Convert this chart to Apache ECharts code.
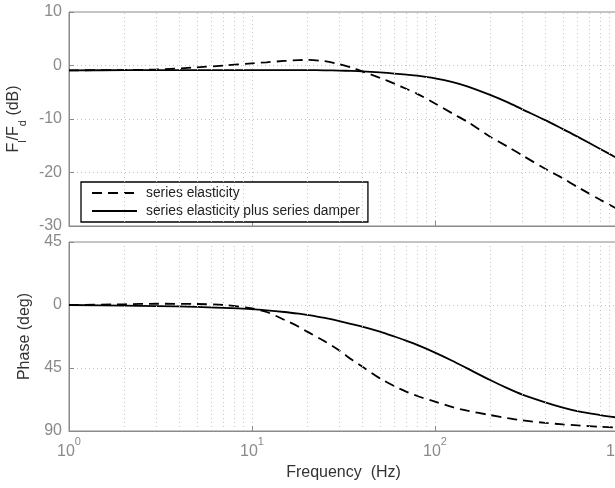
<!DOCTYPE html>
<html>
<head>
<meta charset="utf-8">
<script src="https://cdn.jsdelivr.net/npm/echarts@6/dist/echarts.min.js"></script>
<style>
  html, body { margin: 0; padding: 0; background: #fff; }
  #chart { width: 615px; height: 488px; }
</style>
</head>
<body>
<div id="chart"></div>
<script>
// frequencies (Hz) where the curves were read
var freq = [1, 2, 3, 5, 7, 10, 12, 15, 18, 20, 25, 30, 35, 40, 50, 60, 70, 80, 100, 125, 150, 200, 250, 300, 400, 500, 600, 800, 1000];
// magnitude F_l/F_d (dB)
var magElastic = [-0.9, -0.85, -0.75, -0.35, 0.0, 0.4, 0.6, 0.85, 1.0, 1.05, 0.8, 0.25, -0.4, -1.1, -2.3, -3.4, -4.4, -5.3, -7.1, -9.0, -10.5, -13.3, -15.2, -16.8, -19.3, -21.1, -22.7, -25.1, -26.9];
var magDamper = [-0.9, -0.88, -0.87, -0.86, -0.86, -0.86, -0.86, -0.86, -0.87, -0.87, -0.9, -0.95, -1.02, -1.1, -1.3, -1.5, -1.7, -1.9, -2.4, -3.1, -3.9, -5.5, -6.9, -8.2, -10.2, -11.9, -13.3, -15.6, -17.4];
// phase (deg)
var phaseElastic = [0, 0.5, 0.9, 0.7, 0, -2.5, -5, -10.5, -15.5, -19, -26, -32.5, -39, -44, -52.4, -58, -62, -65, -69, -73, -75.5, -78.6, -80.8, -82.4, -84.2, -85.3, -86, -87, -87.6];
var phaseDamper = [0, -0.5, -0.8, -1.3, -2.0, -3.0, -3.8, -5.0, -6.2, -7.0, -9.2, -11.5, -13.6, -15.4, -19.0, -22.5, -25.6, -28.5, -34.0, -40.0, -45.3, -53.6, -59.6, -64.0, -69.5, -73.3, -75.8, -78.6, -80.5];

var seriesNames = ['series elasticity', 'series elasticity plus series damper'];
var phaseTickLabels = { '45': '45', '0': '0', '-45': '45', '-90': '90' };
var minorFreq = [2, 3, 4, 5, 6, 7, 8, 9, 20, 30, 40, 50, 60, 70, 80, 90, 200, 300, 400, 500, 600, 700, 800, 900];

var FONT = 'Liberation Sans, Arial, Helvetica, sans-serif';
var AXIS_GRAY = '#8a8a8a';
var GRID_GRAY = '#c4c4c4';

function pairs(ys) {
  return freq.map(function (f, i) { return [f, ys[i]]; });
}

var minorLines = {
  silent: true,
  symbol: ['none', 'none'],
  label: { show: false },
  lineStyle: { color: GRID_GRAY, type: [1, 3], width: 1 },
  emphasis: { disabled: true },
  animation: false,
  data: minorFreq.map(function (f) { return { xAxis: f }; })
};

function xAxisFor(gridIndex, showLabels) {
  return {
    gridIndex: gridIndex,
    type: 'log',
    logBase: 10,
    min: 1,
    max: 1000,
    axisLine: { show: true, onZero: false, lineStyle: { color: AXIS_GRAY, width: 1 } },
    axisTick: { show: true, inside: true, length: 5, lineStyle: { color: AXIS_GRAY } },
    splitLine: { show: true, lineStyle: { color: GRID_GRAY, type: [1, 3], width: 1 } },
    axisLabel: {
      show: showLabels,
      margin: 5,
      formatter: function (v) {
        return '{b|10}{e|' + Math.round(Math.log10(v)) + '}';
      },
      rich: {
        b: { fontSize: 16, color: AXIS_GRAY, fontFamily: FONT, lineHeight: 24, verticalAlign: 'bottom' },
        e: { fontSize: 11, color: AXIS_GRAY, fontFamily: FONT, verticalAlign: 'top', lineHeight: 24 }
      }
    },
    name: showLabels ? 'Frequency  (Hz)' : '',
    nameLocation: 'middle',
    nameGap: 34,
    nameTextStyle: { fontSize: 16, color: '#333', fontFamily: FONT }
  };
}

function line(name, xi, yi, ys, dashed, withMinor) {
  var s = {
    name: name,
    type: 'line',
    xAxisIndex: xi,
    yAxisIndex: yi,
    data: pairs(ys),
    symbol: 'none',
    smooth: 0.3,
    lineStyle: { color: '#000', width: 1.8, type: dashed ? [10, 6] : 'solid' },
    itemStyle: { color: '#000' },
    animation: false
  };
  if (withMinor) s.markLine = minorLines;
  return s;
}

var chart = echarts.init(document.getElementById('chart'));
chart.setOption({
  backgroundColor: '#fff',
  textStyle: { fontFamily: FONT },
  grid: [
    { left: 69, right: -3, top: 12, height: 214, outerBoundsMode: 'none', containLabel: false, show: true, borderColor: AXIS_GRAY, borderWidth: 1, backgroundColor: 'transparent' },
    { left: 69, right: -3, top: 242, height: 189, outerBoundsMode: 'none', containLabel: false, show: true, borderColor: AXIS_GRAY, borderWidth: 1, backgroundColor: 'transparent' }
  ],
  legend: {
    data: seriesNames,
    orient: 'vertical',
    left: 81,
    top: 182,
    padding: [4, 8, 4, 10],
    itemWidth: 45,
    itemHeight: 14,
    itemGap: 4,
    backgroundColor: '#fff',
    borderColor: '#000',
    borderWidth: 1.3,
    borderRadius: 0,
    selectedMode: false,
    itemStyle: { color: 'rgba(0,0,0,0)', borderWidth: 0, opacity: 0 },
    textStyle: { fontSize: 13.8, color: '#222', fontFamily: FONT, padding: [0, 0, 0, 4] }
  },
  xAxis: [xAxisFor(0, false), xAxisFor(1, true)],
  yAxis: [
    {
      gridIndex: 0,
      type: 'value',
      min: -30,
      max: 10,
      interval: 10,
      axisLine: { show: true, onZero: false, lineStyle: { color: AXIS_GRAY } },
      axisTick: { show: true, inside: true, length: 5, lineStyle: { color: AXIS_GRAY } },
      splitLine: { show: true, lineStyle: { color: GRID_GRAY, type: [1, 3], width: 1 } },
      axisLabel: { margin: 7, fontSize: 16, color: AXIS_GRAY, fontFamily: FONT },
      name: '{a|F}{s|l}{a|/F}{s|d}{a| (dB)}',
      nameLocation: 'middle',
      nameGap: 34,
      nameTextStyle: {
        color: '#333',
        rich: {
          a: { fontSize: 16, color: '#333', fontFamily: FONT, lineHeight: 22, verticalAlign: 'top' },
          s: { fontSize: 11, color: '#333', fontFamily: FONT, lineHeight: 22, verticalAlign: 'bottom' }
        }
      }
    },
    {
      gridIndex: 1,
      type: 'value',
      min: -90,
      max: 45,
      interval: 45,
      axisLine: { show: true, onZero: false, lineStyle: { color: AXIS_GRAY } },
      axisTick: { show: true, inside: true, length: 5, lineStyle: { color: AXIS_GRAY } },
      splitLine: { show: true, lineStyle: { color: GRID_GRAY, type: [1, 3], width: 1 } },
      axisLabel: {
        margin: 7, fontSize: 16, color: AXIS_GRAY, fontFamily: FONT,
        formatter: function (v) { return phaseTickLabels[String(v)]; }
      },
      name: 'Phase (deg)',
      nameLocation: 'middle',
      nameGap: 36,
      nameTextStyle: { fontSize: 16, color: '#333', fontFamily: FONT }
    }
  ],
  series: [
    line(seriesNames[0], 0, 0, magElastic, true, true),
    line(seriesNames[1], 0, 0, magDamper, false, false),
    line(seriesNames[0], 1, 1, phaseElastic, true, true),
    line(seriesNames[1], 1, 1, phaseDamper, false, false)
  ]
});
</script>
</body>
</html>
